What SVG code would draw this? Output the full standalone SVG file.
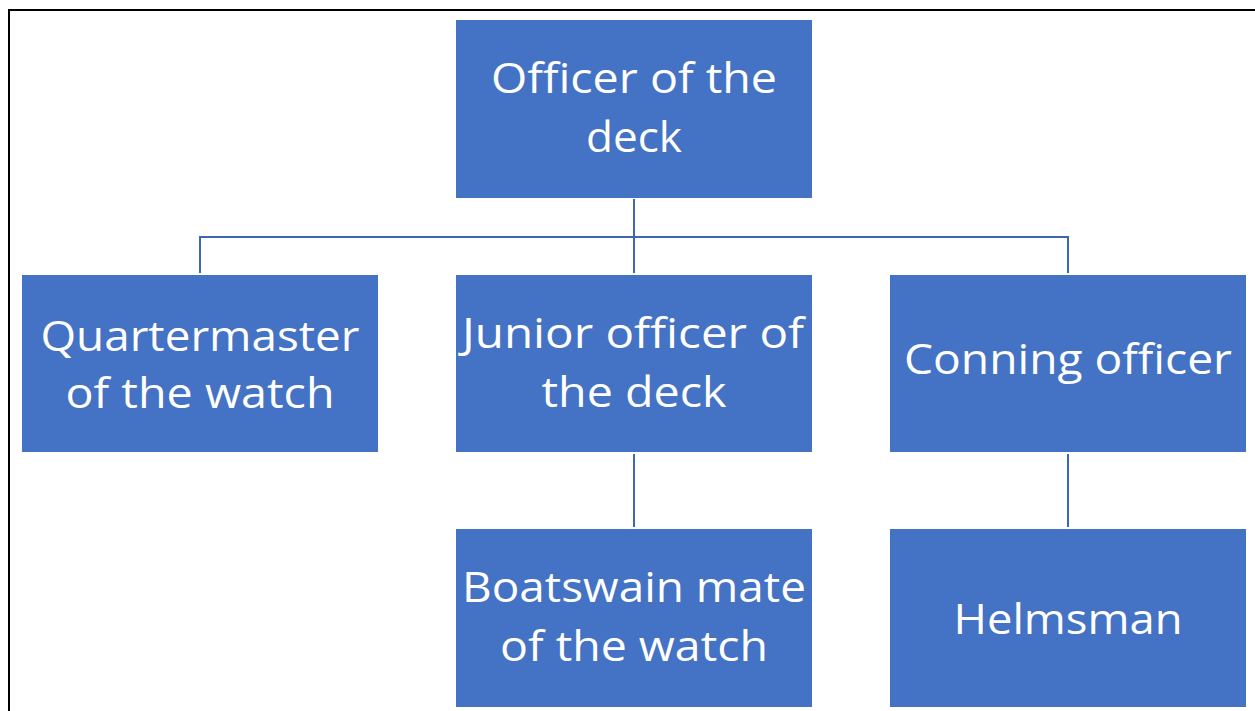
<svg xmlns="http://www.w3.org/2000/svg" width="1255" height="711" viewBox="0 0 1255 711">
<style>
.box{fill:#4472C4;}
.lbl{fill:#FFFFFF;font-family:"Open Sans","Noto Sans","Liberation Sans",sans-serif;font-size:42px;text-anchor:middle;}
.conn{stroke:#3F66B0;stroke-width:2;fill:none;}
</style>
<rect x="0" y="0" width="1255" height="711" fill="#FFFFFF"/>
<rect x="9" y="10" width="1300" height="800" fill="none" stroke="#000000" stroke-width="2"/>
<g id="connectors">
<path class="conn" d="M634 199 V273"/>
<path class="conn" d="M200 237 H1068"/>
<path class="conn" d="M200 236 V273"/>
<path class="conn" d="M1068 236 V273"/>
<path class="conn" d="M634 454 V527"/>
<path class="conn" d="M1068 454 V527"/>
</g>
<g id="node-officer-of-the-deck">
<rect class="box" x="456" y="20" width="356" height="178"/>
<text class="lbl" x="634" y="93" textLength="286" lengthAdjust="spacingAndGlyphs">Officer of the</text>
<text class="lbl" x="634" y="151.5" textLength="96" lengthAdjust="spacingAndGlyphs">deck</text>
</g>
<g id="node-quartermaster">
<rect class="box" x="22" y="275" width="356" height="177"/>
<text class="lbl" x="200" y="351" textLength="319" lengthAdjust="spacingAndGlyphs">Quartermaster</text>
<text class="lbl" x="200" y="408" textLength="269" lengthAdjust="spacingAndGlyphs">of the watch</text>
</g>
<g id="node-junior-officer">
<rect class="box" x="456" y="275" width="356" height="177"/>
<text class="lbl" x="633" y="348" textLength="342" lengthAdjust="spacingAndGlyphs">Junior officer of</text>
<text class="lbl" x="634" y="406.5" textLength="185" lengthAdjust="spacingAndGlyphs">the deck</text>
</g>
<g id="node-conning-officer">
<rect class="box" x="890" y="275" width="356" height="177"/>
<text class="lbl" x="1068" y="374" textLength="328" lengthAdjust="spacingAndGlyphs">Conning officer</text>
</g>
<g id="node-boatswain-mate">
<rect class="box" x="456" y="529" width="356" height="178"/>
<text class="lbl" x="634" y="602" textLength="344" lengthAdjust="spacingAndGlyphs">Boatswain mate</text>
<text class="lbl" x="634" y="661" textLength="268" lengthAdjust="spacingAndGlyphs">of the watch</text>
</g>
<g id="node-helmsman">
<rect class="box" x="890" y="529" width="356" height="178"/>
<text class="lbl" x="1068" y="634" textLength="229" lengthAdjust="spacingAndGlyphs">Helmsman</text>
</g>
</svg>
